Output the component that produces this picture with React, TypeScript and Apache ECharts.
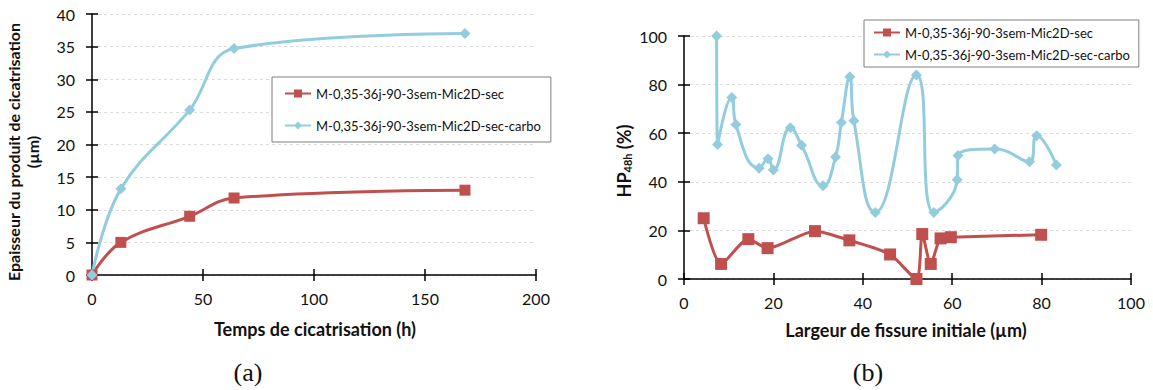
import React, { useEffect, useRef } from "react";
import * as echarts from "echarts";

// ---------- Data: chart (a) ----------
const timeHours = [0, 13, 44, 64, 168];
const thicknessSec = [0, 5, 9, 11.8, 13];
const thicknessCarbo = [0, 13.2, 25.3, 34.7, 37];

// ---------- Data: chart (b) ----------
const widthSec = [4.4, 8.3, 14.4, 18.7, 29.3, 37.0, 46.1, 52.0, 53.3, 55.2, 57.4, 59.7, 79.9];
const hpSec = [25.0, 6.2, 16.4, 12.7, 19.7, 15.9, 10.1, 0, 18.5, 6.2, 16.7, 17.2, 18.2];
const widthCarbo = [7.3, 7.5, 10.7, 11.6, 16.8, 18.8, 20.0, 23.8, 26.3, 31.1, 33.9, 35.2, 37.1, 38.0, 42.8, 52.0, 55.9, 61.1, 61.3, 69.5, 77.3, 78.9, 83.3];
const hpCarbo = [100, 55.4, 74.7, 63.6, 45.6, 49.5, 44.9, 62.2, 55.0, 38.4, 50.2, 64.4, 83.2, 65.1, 27.4, 83.9, 27.4, 40.8, 50.8, 53.5, 48.2, 59.0, 46.9];

const seriesNames = ["M-0,35-36j-90-3sem-Mic2D-sec", "M-0,35-36j-90-3sem-Mic2D-sec-carbo"];
const xTitles = ["Temps de cicatrisation (h)", "Largeur de fissure initiale (µm)"];
const yTitleA = "Epaisseur du produit de cicatrisation\n(µm)";
const panelLabels = ["(a)", "(b)"];

const RED = "#C0504D";
const BLUE = "#93CDDD";
const FONT = "Lato";

const zip = (xs: number[], ys: number[]) => xs.map((x, i) => [x, ys[i]]);

function axisPair(dim: "x" | "y", gridIndex: number, min: number, max: number, interval: number, margin: number) {
  const base: any = {
    type: "value",
    gridIndex,
    min,
    max,
    interval,
    position: dim === "x" ? "bottom" : "left",
    splitLine: { show: false },
  };
  const main = {
    ...base,
    axisLine: { show: true, onZero: false, lineStyle: { color: "#000", width: 1.5 } },
    axisTick: { show: true, inside: false, length: 6, lineStyle: { color: "#000", width: 1.5 } },
    axisLabel: { show: true, margin, fontFamily: FONT, fontSize: 16, color: "#111" },
    splitLine:
      dim === "y"
        ? { show: true, lineStyle: { color: "#dcdcdc", type: [3, 3], width: 1 } }
        : { show: false },
  };
  const inner = {
    ...base,
    axisLine: { show: false, onZero: false },
    axisTick: { show: true, inside: true, length: 6, lineStyle: { color: "#000", width: 1.5 } },
    axisLabel: { show: false },
  };
  return [main, inner];
}

export default function App() {
  const ref = useRef<HTMLDivElement>(null);
  useEffect(() => {
    document.body.style.margin = "0";
    const chart = echarts.init(ref.current!, undefined, { renderer: "svg" });
    const lineSeries = (name: string, data: number[][], grid: number, color: string, symbol: string, size: number, smooth: number) => ({
      type: "line",
      name,
      data,
      xAxisIndex: grid * 2,
      yAxisIndex: grid * 2,
      smooth,
      clip: false,
      symbol,
      symbolSize: size,
      showAllSymbol: true,
      lineStyle: { color, width: 3 },
      itemStyle: { color, borderColor: color, borderWidth: 0 },
      emphasis: { disabled: true },
    });
    const legendBase = {
      orient: "vertical",
      backgroundColor: "#fff",
      borderColor: "#7f7f7f",
      borderWidth: 1,
      borderRadius: 0,
      itemWidth: 26,
      itemHeight: 10,
      textStyle: { fontFamily: FONT, fontSize: 13, color: "#111" },
      data: seriesNames,
    };
    const [xa0, xa1] = axisPair("x", 0, 0, 200, 50, 15);
    const [ya0, ya1] = axisPair("y", 0, 0, 40, 5, 17);
    const [xb0, xb1] = axisPair("x", 1, 0, 100, 20, 15);
    const [yb0, yb1] = axisPair("y", 1, 0, 100, 20, 17);
    chart.setOption({
      animation: false,
      backgroundColor: "#fff",
      grid: [
        { left: 92, top: 14, width: 444, height: 261 },
        { left: 684, top: 36, width: 447, height: 243 },
      ],
      xAxis: [xa0, xa1, xb0, xb1],
      yAxis: [ya0, ya1, yb0, yb1],
      legend: [
        { ...legendBase, left: 272, top: 77, padding: [10, 10, 10, 12], itemGap: 19 },
        { ...legendBase, left: 864, top: 20, padding: [6, 9, 6, 9], itemGap: 9 },
      ],
      series: [
        lineSeries(seriesNames[0], zip(timeHours, thicknessSec), 0, RED, "rect", 11, 0.4),
        lineSeries(seriesNames[1], zip(timeHours, thicknessCarbo), 0, BLUE, "diamond", 11, 0.4),
        lineSeries(seriesNames[0], zip(widthSec, hpSec), 1, RED, "rect", 12, 0.25),
        lineSeries(seriesNames[1], zip(widthCarbo, hpCarbo), 1, BLUE, "diamond", 11, 0.5),
      ],
      graphic: [
        {
          type: "text", x: 315, y: 329,
          style: { text: xTitles[0], fontFamily: FONT, fontWeight: "bold", fontSize: 18, fill: "#111", align: "center", verticalAlign: "middle" },
        },
        {
          type: "text", x: 906, y: 330,
          style: { text: xTitles[1], fontFamily: FONT, fontWeight: "bold", fontSize: 18, fill: "#111", align: "center", verticalAlign: "middle" },
        },
        {
          type: "text", x: 23, y: 152, rotation: Math.PI / 2,
          style: { text: yTitleA, fontFamily: FONT, fontWeight: "bold", fontSize: 16, lineHeight: 19, fill: "#111", align: "center", verticalAlign: "middle" },
        },
        {
          type: "text", x: 622, y: 161, rotation: Math.PI / 2,
          style: {
            text: "{a|HP}{b|48h}{a| (%)}",
            align: "center",
            verticalAlign: "middle",
            rich: {
              a: { fontFamily: FONT, fontWeight: "bold", fontSize: 18, fill: "#111", lineHeight: 22, verticalAlign: "bottom" },
              b: { fontFamily: FONT, fontWeight: "bold", fontSize: 11, fill: "#111", lineHeight: 11, verticalAlign: "bottom" },
            },
          },
        },
        {
          type: "text", x: 248, y: 372,
          style: { text: panelLabels[0], fontFamily: "Liberation Serif", fontSize: 26, fill: "#111", align: "center", verticalAlign: "middle" },
        },
        {
          type: "text", x: 868, y: 372,
          style: { text: panelLabels[1], fontFamily: "Liberation Serif", fontSize: 26, fill: "#111", align: "center", verticalAlign: "middle" },
        },
      ],
    });
    return () => chart.dispose();
  }, []);
  return <div ref={ref} style={{ position: "absolute", left: 0, top: 0, width: 1153, height: 390, background: "#fff" }} />;
}
